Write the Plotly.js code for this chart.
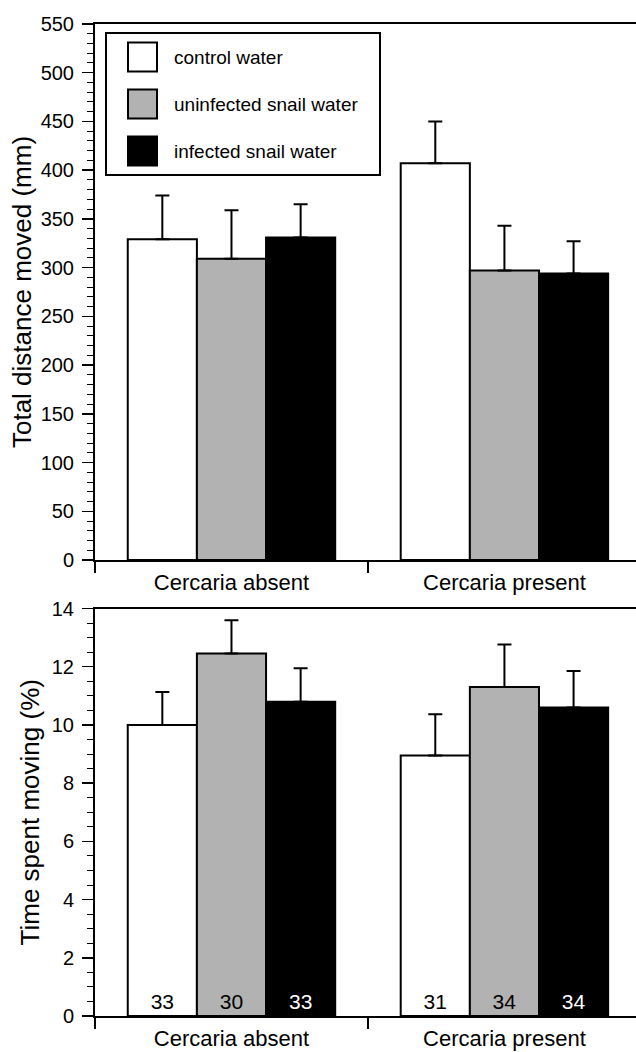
<!DOCTYPE html>
<html><head><meta charset="utf-8">
<script src="https://cdn.plot.ly/plotly-3.0.1.min.js"></script>
<style>html,body{margin:0;padding:0;background:#fff}#chart{width:636px;height:1052px}</style>
</head><body><div id="chart"></div>
<script>
// ---- data ----
const categories = ["Cercaria absent", "Cercaria present"];
const seriesNames = ["control water", "uninfected snail water", "infected snail water"];
const seriesColors = ["#ffffff", "#b2b2b2", "#000000"];
const labelColors = ["#000000", "#000000", "#ffffff"];

const distControl = [329, 407];
const distUninfected = [309, 297];
const distInfected = [331, 294];
const distErrControl = [45, 43];
const distErrUninfected = [50, 46];
const distErrInfected = [34, 33];

const timeControl = [10.0, 8.95];
const timeUninfected = [12.45, 11.3];
const timeInfected = [10.8, 10.6];
const timeErrControl = [1.13, 1.42];
const timeErrUninfected = [1.15, 1.46];
const timeErrInfected = [1.15, 1.25];

const nControl = ["33", "31"];
const nUninfected = ["30", "34"];
const nInfected = ["33", "34"];
const noLowerErr = [0, 0];

const distSeries = [distControl, distUninfected, distInfected];
const distErrs = [distErrControl, distErrUninfected, distErrInfected];
const timeSeries = [timeControl, timeUninfected, timeInfected];
const timeErrs = [timeErrControl, timeErrUninfected, timeErrInfected];
const nSeries = [nControl, nUninfected, nInfected];

const FONT = "Liberation Sans, Arial, Helvetica, sans-serif";

const traces = [];
for (let i = 0; i < 3; i++) {
  traces.push({
    type: "bar", name: seriesNames[i], x: categories, y: distSeries[i],
    xaxis: "x", yaxis: "y", showlegend: false,
    marker: {color: seriesColors[i], line: {color: "#000", width: 2}},
    error_y: {type: "data", symmetric: false, array: distErrs[i], arrayminus: noLowerErr,
              color: "#000", thickness: 2, width: 7},
    hoverinfo: "skip"
  });
}
for (let i = 0; i < 3; i++) {
  traces.push({
    type: "bar", name: seriesNames[i], x: categories, y: timeSeries[i],
    xaxis: "x2", yaxis: "y2", showlegend: false,
    marker: {color: seriesColors[i], line: {color: "#000", width: 2}},
    error_y: {type: "data", symmetric: false, array: timeErrs[i], arrayminus: noLowerErr,
              color: "#000", thickness: 2, width: 7},
    text: nSeries[i], textposition: "inside", insidetextanchor: "start", textangle: 0,
    constraintext: "none",
    textfont: {family: FONT, size: 21, color: labelColors[i]},
    hoverinfo: "skip"
  });
}

// pixel -> paper helpers for the hand-made legend box
const L = 95, R = 636, T = 24, B = 1016;
const px = v => (v - L) / (R - L);
const py = v => (B - v) / (B - T);

const shapes = [{type: "rect", xref: "paper", yref: "paper",
  x0: px(106), x1: px(380), y0: py(175), y1: py(33),
  line: {color: "#000", width: 2}, fillcolor: "rgba(0,0,0,0)"}];
const annotations = [];
const rowY = [57, 104, 151];
for (let i = 0; i < 3; i++) {
  shapes.push({type: "rect", xref: "paper", yref: "paper",
    x0: px(128), x1: px(157), y0: py(rowY[i] + 14.5), y1: py(rowY[i] - 14.5),
    line: {color: "#000", width: 2}, fillcolor: seriesColors[i]});
  annotations.push({xref: "paper", yref: "paper", x: px(172), y: py(rowY[i]),
    xanchor: "left", yanchor: "middle", showarrow: false, text: seriesNames[i],
    font: {family: FONT, size: 19, color: "#000"}});
}

const xCommon = {
  type: "category", range: [-0.5, 1.482], tickson: "boundaries",
  ticks: "outside", ticklen: 11, tickwidth: 1.5, tickcolor: "#000",
  ticklabelstandoff: 2,
  showline: true, linewidth: 2, linecolor: "#000", mirror: true,
  showgrid: false, zeroline: false, tickfont: {family: FONT, size: 22, color: "#000"},
  fixedrange: true
};
const yCommon = {
  ticks: "outside", ticklen: 11, tickwidth: 1.5, tickcolor: "#000",
  ticklabelstandoff: 4,
  showline: true, linewidth: 2, linecolor: "#000",
  showgrid: false, zeroline: false, tickfont: {family: FONT, size: 20, color: "#000"},
  fixedrange: true
};

const layout = {
  width: 636, height: 1052,
  margin: {l: 95, r: 0, t: 24, b: 36},
  paper_bgcolor: "#fff", plot_bgcolor: "#fff",
  font: {family: FONT, color: "#000"},
  barmode: "group", bargap: 0.24, bargroupgap: 0,
  showlegend: false,
  xaxis: Object.assign({}, xCommon, {anchor: "y", domain: [0, 1]}),
  xaxis2: Object.assign({}, xCommon, {anchor: "y2", domain: [0, 1]}),
  yaxis: Object.assign({}, yCommon, {
    anchor: "x", domain: [1 - 536 / 992, 1], range: [0, 550], tick0: 0, dtick: 50,
    minor: {dtick: 10, ticks: "outside", ticklen: 6, tickwidth: 1, tickcolor: "#000", showgrid: false},
    title: {text: "Total distance moved (mm)", font: {family: FONT, size: 26, color: "#000"}, standoff: 2}
  }),
  yaxis2: Object.assign({}, yCommon, {
    anchor: "x2", domain: [0, 407.5 / 992], range: [0, 14], tick0: 0, dtick: 2,
    minor: {dtick: 0.5, ticks: "outside", ticklen: 6, tickwidth: 1, tickcolor: "#000", showgrid: false},
    title: {text: "Time spent moving (%)", font: {family: FONT, size: 26, color: "#000"}, standoff: 5}
  }),
  shapes: shapes,
  annotations: annotations
};

Plotly.newPlot("chart", traces, layout, {staticPlot: true, displayModeBar: false});
</script>
</body></html>
